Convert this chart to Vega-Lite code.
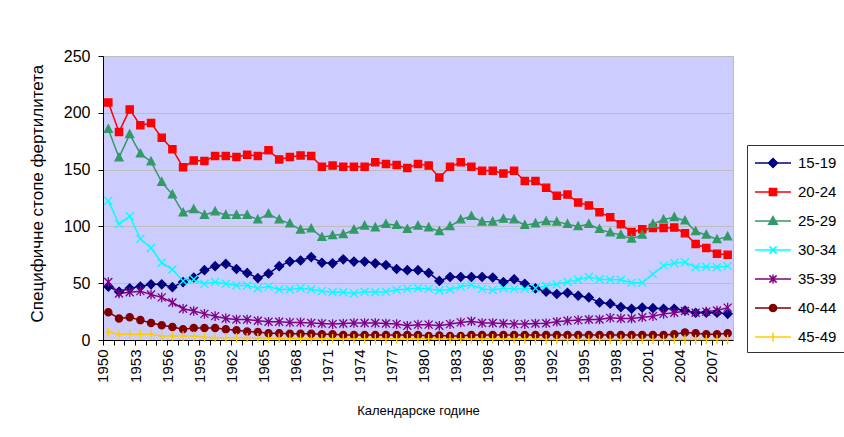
{
  "$schema": "https://vega.github.io/schema/vega-lite/v6.json",
  "width": 630,
  "height": 284,
  "autosize": {"type": "none"},
  "padding": {"left": 103, "top": 56, "right": 111, "bottom": 97},
  "background": "white",
  "config": {
    "font": "Liberation Sans",
    "view": {"fill": "#CCCCFF", "stroke": "#BDBDBD"}
  },
  "data": {
    "values": [
      {"year": 1950, "15-19": 47, "20-24": 209, "25-29": 185.5, "30-34": 122.5, "35-39": 51, "40-44": 24.5, "45-49": 7},
      {"year": 1951, "15-19": 42.5, "20-24": 183, "25-29": 160.5, "30-34": 102, "35-39": 41, "40-44": 19, "45-49": 5},
      {"year": 1952, "15-19": 45.5, "20-24": 203, "25-29": 181, "30-34": 109, "35-39": 42, "40-44": 20, "45-49": 5},
      {"year": 1953, "15-19": 47, "20-24": 189, "25-29": 164, "30-34": 89, "35-39": 43, "40-44": 17.5, "45-49": 5},
      {"year": 1954, "15-19": 49, "20-24": 191, "25-29": 157, "30-34": 81, "35-39": 40, "40-44": 15, "45-49": 5},
      {"year": 1955, "15-19": 49, "20-24": 178, "25-29": 139, "30-34": 68, "35-39": 37.5, "40-44": 13, "45-49": 3.5},
      {"year": 1956, "15-19": 46.5, "20-24": 168, "25-29": 128, "30-34": 62, "35-39": 33, "40-44": 11.5, "45-49": 3.5},
      {"year": 1957, "15-19": 51, "20-24": 152, "25-29": 112, "30-34": 52, "35-39": 27.5, "40-44": 9.5, "45-49": 3.5},
      {"year": 1958, "15-19": 55, "20-24": 158, "25-29": 115, "30-34": 53.5, "35-39": 25.5, "40-44": 10.5, "45-49": 3.5},
      {"year": 1959, "15-19": 61.5, "20-24": 157.5, "25-29": 110, "30-34": 49.5, "35-39": 23, "40-44": 10.5, "45-49": 2.5},
      {"year": 1960, "15-19": 65, "20-24": 162, "25-29": 113, "30-34": 51, "35-39": 21, "40-44": 10.5, "45-49": 2},
      {"year": 1961, "15-19": 67, "20-24": 162, "25-29": 110, "30-34": 49.5, "35-39": 19, "40-44": 9.5, "45-49": 2},
      {"year": 1962, "15-19": 62.5, "20-24": 161, "25-29": 110, "30-34": 48, "35-39": 18, "40-44": 8.5, "45-49": 2},
      {"year": 1963, "15-19": 59, "20-24": 163, "25-29": 110, "30-34": 48, "35-39": 18, "40-44": 7.5, "45-49": 2},
      {"year": 1964, "15-19": 54.5, "20-24": 162, "25-29": 106, "30-34": 45.5, "35-39": 17, "40-44": 7, "45-49": 2},
      {"year": 1965, "15-19": 58.5, "20-24": 167, "25-29": 111, "30-34": 47, "35-39": 16, "40-44": 6, "45-49": 1.5},
      {"year": 1966, "15-19": 65, "20-24": 159, "25-29": 106, "30-34": 44.5, "35-39": 16, "40-44": 6, "45-49": 1.5},
      {"year": 1967, "15-19": 69, "20-24": 161, "25-29": 102.5, "30-34": 44.5, "35-39": 15.5, "40-44": 5.5, "45-49": 1.5},
      {"year": 1968, "15-19": 70, "20-24": 162.5, "25-29": 97, "30-34": 45.5, "35-39": 15.5, "40-44": 5.5, "45-49": 1.5},
      {"year": 1969, "15-19": 73, "20-24": 162, "25-29": 98, "30-34": 44.5, "35-39": 15, "40-44": 5.5, "45-49": 1},
      {"year": 1970, "15-19": 68, "20-24": 152.5, "25-29": 90.5, "30-34": 43, "35-39": 14.5, "40-44": 5, "45-49": 1},
      {"year": 1971, "15-19": 67.5, "20-24": 153.5, "25-29": 92, "30-34": 42, "35-39": 14, "40-44": 5, "45-49": 1},
      {"year": 1972, "15-19": 71, "20-24": 152.5, "25-29": 93, "30-34": 42, "35-39": 14.5, "40-44": 4.5, "45-49": 1},
      {"year": 1973, "15-19": 69, "20-24": 152.5, "25-29": 97, "30-34": 41, "35-39": 15, "40-44": 4.5, "45-49": 1},
      {"year": 1974, "15-19": 69, "20-24": 152.5, "25-29": 100.5, "30-34": 42.5, "35-39": 15, "40-44": 4.5, "45-49": 1},
      {"year": 1975, "15-19": 67.5, "20-24": 156.5, "25-29": 99, "30-34": 42, "35-39": 15, "40-44": 4.5, "45-49": 1},
      {"year": 1976, "15-19": 66, "20-24": 155, "25-29": 102, "30-34": 42.5, "35-39": 14.5, "40-44": 4.5, "45-49": 1},
      {"year": 1977, "15-19": 62.5, "20-24": 154, "25-29": 101, "30-34": 44, "35-39": 14, "40-44": 4.5, "45-49": 1},
      {"year": 1978, "15-19": 61.5, "20-24": 151.5, "25-29": 97.5, "30-34": 45, "35-39": 12.5, "40-44": 4.5, "45-49": 1},
      {"year": 1979, "15-19": 61.5, "20-24": 155, "25-29": 100.5, "30-34": 45.5, "35-39": 13.5, "40-44": 4.5, "45-49": 1},
      {"year": 1980, "15-19": 59, "20-24": 153.5, "25-29": 99, "30-34": 45, "35-39": 13.5, "40-44": 3.5, "45-49": 1},
      {"year": 1981, "15-19": 52, "20-24": 143, "25-29": 95.5, "30-34": 43.5, "35-39": 12.5, "40-44": 4, "45-49": 1},
      {"year": 1982, "15-19": 55.5, "20-24": 152.5, "25-29": 100, "30-34": 44.5, "35-39": 14, "40-44": 3.5, "45-49": 1},
      {"year": 1983, "15-19": 55.5, "20-24": 156.5, "25-29": 106, "30-34": 47, "35-39": 15.5, "40-44": 3.5, "45-49": 1},
      {"year": 1984, "15-19": 55.5, "20-24": 152.5, "25-29": 109, "30-34": 48.5, "35-39": 16.5, "40-44": 4.5, "45-49": 1},
      {"year": 1985, "15-19": 55.5, "20-24": 149, "25-29": 104, "30-34": 45, "35-39": 15, "40-44": 4.5, "45-49": 1},
      {"year": 1986, "15-19": 55, "20-24": 149, "25-29": 104, "30-34": 44, "35-39": 15, "40-44": 4.5, "45-49": 1},
      {"year": 1987, "15-19": 51, "20-24": 146.5, "25-29": 106.5, "30-34": 45.5, "35-39": 14.5, "40-44": 4.5, "45-49": 1},
      {"year": 1988, "15-19": 53.5, "20-24": 149, "25-29": 106, "30-34": 45, "35-39": 14, "40-44": 4.5, "45-49": 1},
      {"year": 1989, "15-19": 49.5, "20-24": 140, "25-29": 101, "30-34": 45, "35-39": 14, "40-44": 4.5, "45-49": 1},
      {"year": 1990, "15-19": 45.5, "20-24": 140, "25-29": 102.5, "30-34": 45.5, "35-39": 14.5, "40-44": 4.5, "45-49": 1},
      {"year": 1991, "15-19": 42.5, "20-24": 134, "25-29": 104.5, "30-34": 47.5, "35-39": 14.7, "40-44": 4.5, "45-49": 0.5},
      {"year": 1992, "15-19": 40.5, "20-24": 127, "25-29": 104, "30-34": 49, "35-39": 16, "40-44": 4.5, "45-49": 0.5},
      {"year": 1993, "15-19": 41.5, "20-24": 128, "25-29": 102, "30-34": 51, "35-39": 17, "40-44": 4.5, "45-49": 0.5},
      {"year": 1994, "15-19": 39, "20-24": 121, "25-29": 100, "30-34": 53, "35-39": 17.5, "40-44": 4.5, "45-49": 0.5},
      {"year": 1995, "15-19": 37.5, "20-24": 118.5, "25-29": 102, "30-34": 55.5, "35-39": 18, "40-44": 4.5, "45-49": 0.5},
      {"year": 1996, "15-19": 33, "20-24": 112.5, "25-29": 97.5, "30-34": 53.5, "35-39": 18, "40-44": 4.5, "45-49": 0.5},
      {"year": 1997, "15-19": 32, "20-24": 108, "25-29": 94.5, "30-34": 53, "35-39": 19.5, "40-44": 4.5, "45-49": 0.5},
      {"year": 1998, "15-19": 29, "20-24": 102, "25-29": 92.5, "30-34": 53, "35-39": 19, "40-44": 4.5, "45-49": 0.5},
      {"year": 1999, "15-19": 27.5, "20-24": 95, "25-29": 89, "30-34": 50.5, "35-39": 19, "40-44": 4.5, "45-49": 0.5},
      {"year": 2000, "15-19": 28.5, "20-24": 97.5, "25-29": 92.5, "30-34": 50.5, "35-39": 20, "40-44": 4.5, "45-49": 0.5},
      {"year": 2001, "15-19": 28, "20-24": 98.5, "25-29": 102, "30-34": 58, "35-39": 21, "40-44": 4.5, "45-49": 0.5},
      {"year": 2002, "15-19": 27.5, "20-24": 98.5, "25-29": 106, "30-34": 65.5, "35-39": 23, "40-44": 4.5, "45-49": 0.5},
      {"year": 2003, "15-19": 27.5, "20-24": 99, "25-29": 108, "30-34": 67.5, "35-39": 24, "40-44": 5, "45-49": 0.5},
      {"year": 2004, "15-19": 26, "20-24": 94, "25-29": 105, "30-34": 68.5, "35-39": 25.5, "40-44": 6.5, "45-49": 0.5},
      {"year": 2005, "15-19": 24, "20-24": 84.5, "25-29": 95.5, "30-34": 64, "35-39": 24, "40-44": 6, "45-49": 0.5},
      {"year": 2006, "15-19": 24, "20-24": 81, "25-29": 92.5, "30-34": 64.5, "35-39": 25, "40-44": 5, "45-49": 0.5},
      {"year": 2007, "15-19": 24, "20-24": 76, "25-29": 88.5, "30-34": 64, "35-39": 26, "40-44": 5, "45-49": 0.5},
      {"year": 2008, "15-19": 23, "20-24": 75, "25-29": 91, "30-34": 65, "35-39": 28.5, "40-44": 6, "45-49": 0.5}
    ]
  },
  "transform": [
    {"fold": ["15-19", "20-24", "25-29", "30-34", "35-39", "40-44", "45-49"], "as": ["group", "value"]}
  ],
  "encoding": {
    "x": {
      "field": "year",
      "type": "quantitative",
      "scale": {"domain": [1949.5, 2008.5], "nice": false, "zero": false},
      "axis": {
        "values": [1950,1951,1952,1953,1954,1955,1956,1957,1958,1959,1960,1961,1962,1963,1964,1965,1966,1967,1968,1969,1970,1971,1972,1973,1974,1975,1976,1977,1978,1979,1980,1981,1982,1983,1984,1985,1986,1987,1988,1989,1990,1991,1992,1993,1994,1995,1996,1997,1998,1999,2000,2001,2002,2003,2004,2005,2006,2007,2008],
        "labelExpr": "datum.value % 3 == 0 ? '' + datum.value : ''",
        "labelAngle": 270,
        "labelAlign": "right",
        "labelBaseline": "middle",
        "labelFontSize": 15,
        "labelColor": "black",
        "labelPadding": 4,
        "labelOverlap": false,
        "labelFlush": false,
        "tickSize": 5,
        "tickOffset": -5.34,
        "tickColor": "black",
        "domainColor": "black",
        "grid": false,
        "title": "Календарске године",
        "titleFontSize": 13,
        "titleFontWeight": "normal",
        "titleColor": "black",
        "titlePadding": 22
      }
    },
    "y": {
      "field": "value",
      "type": "quantitative",
      "scale": {"domain": [0, 250], "nice": false},
      "axis": {
        "values": [0, 50, 100, 150, 200, 250],
        "labelFontSize": 16,
        "labelColor": "black",
        "labelPadding": 8,
        "tickSize": 5,
        "tickColor": "black",
        "domainColor": "black",
        "grid": true,
        "gridColor": "#BDBDBD",
        "title": "Специфичне стопе фертилитета",
        "titleFontSize": 17,
        "titleFontWeight": "normal",
        "titleColor": "black",
        "titleAlign": "left",
        "titleY": 266,
        "titlePadding": 17
      }
    }
  },
  "layer": [
    {
      "mark": {"type": "line", "strokeWidth": 1.5},
      "encoding": {
        "color": {
          "field": "group",
          "type": "nominal",
          "scale": {
            "domain": ["15-19", "20-24", "25-29", "30-34", "35-39", "40-44", "45-49"],
            "range": ["#000080", "#FF0000", "#339966", "#00FFFF", "#800080", "#800000", "#FFCC00"]
          },
          "legend": null
        }
      }
    },
    {
      "mark": {"type": "point", "filled": true, "size": 64, "strokeWidth": 1.3, "opacity": 1},
      "encoding": {
        "fill": {
          "field": "group", "type": "nominal",
          "scale": {
            "domain": ["15-19", "20-24", "25-29", "30-34", "35-39", "40-44", "45-49"],
            "range": ["#000080", "#FF0000", "#339966", "#00FFFF", "#800080", "#800000", "#FFCC00"]
          },
          "legend": null
        },
        "stroke": {
          "field": "group", "type": "nominal",
          "scale": {
            "domain": ["15-19", "20-24", "25-29", "30-34", "35-39", "40-44", "45-49"],
            "range": ["#000080", "#FF0000", "#339966", "#00FFFF", "#800080", "#800000", "#FFCC00"]
          },
          "legend": null
        },
        "shape": {
          "field": "group", "type": "nominal",
          "scale": {
            "domain": ["15-19", "20-24", "25-29", "30-34", "35-39", "40-44", "45-49"],
            "range": [
              "M0,-1.1L1.1,0L0,1.1L-1.1,0Z",
              "M-0.9,-0.9H0.9V0.9H-0.9Z",
              "M0,-1.1L1,0.8H-1Z",
              "M-1,-1L1,1M-1,1L1,-1",
              "M-1,-1L1,1M-1,1L1,-1M0,-1.2V1.2",
              "M-0.9,0A0.9,0.9 0 1,1 0.9,0A0.9,0.9 0 1,1 -0.9,0Z",
              "M-0.8,0H0.8M0,-1.2V1.2"
            ]
          },
          "legend": null
        }
      }
    },
    {
      "mark": {"type": "point", "filled": false, "opacity": 0},
      "encoding": {
        "stroke": {
          "field": "group", "type": "nominal",
          "scale": {
            "domain": ["15-19", "20-24", "25-29", "30-34", "35-39", "40-44", "45-49"],
            "range": ["#000080", "#FF0000", "#339966", "#00FFFF", "#800080", "#800000", "#FFCC00"]
          },
          "legend": {
            "title": null, "orient": "none", "legendX": 644, "legendY": 89,
            "padding": 7, "strokeColor": "#333333", "fillColor": "white",
            "labelFontSize": 15, "labelColor": "black", "labelOffset": 14,
            "symbolSize": 400, "symbolOffset": 8, "symbolStrokeWidth": 1.5, "rowPadding": 10
          }
        },
        "shape": {
          "field": "group", "type": "nominal",
          "scale": {
            "domain": ["15-19", "20-24", "25-29", "30-34", "35-39", "40-44", "45-49"],
            "range": [
              "M-1.8,0H1.8M0,-0.45L0.45,0L0,0.45L-0.45,0ZM0,-0.3L0.3,0L0,0.3L-0.3,0ZM0,-0.15L0.15,0L0,0.15L-0.15,0Z",
              "M-1.8,0H1.8M-0.36,-0.36H0.36V0.36H-0.36ZM-0.22,-0.22H0.22V0.22H-0.22ZM-0.08,-0.08H0.08V0.08H-0.08Z",
              "M-1.8,0H1.8M0,-0.45L0.43,0.32H-0.43ZM0,-0.27L0.28,0.23H-0.28ZM0,-0.1L0.14,0.15H-0.14Z",
              "M-1.8,0H1.8M-0.36,-0.36L0.36,0.36M-0.36,0.36L0.36,-0.36",
              "M-1.8,0H1.8M-0.36,-0.36L0.36,0.36M-0.36,0.36L0.36,-0.36M0,-0.45V0.45",
              "M-1.8,0H1.8M-0.36,0A0.36,0.36 0 1,1 0.36,0A0.36,0.36 0 1,1 -0.36,0ZM-0.22,0A0.22,0.22 0 1,1 0.22,0A0.22,0.22 0 1,1 -0.22,0ZM-0.08,0A0.08,0.08 0 1,1 0.08,0A0.08,0.08 0 1,1 -0.08,0Z",
              "M-1.8,0H1.8M0,-0.45V0.45"
            ]
          },
          "legend": {
            "title": null, "orient": "none", "legendX": 644, "legendY": 89,
            "padding": 7, "strokeColor": "#333333", "fillColor": "white",
            "labelFontSize": 15, "labelColor": "black", "labelOffset": 14,
            "symbolSize": 400, "symbolOffset": 8, "symbolStrokeWidth": 1.5, "rowPadding": 10
          }
        }
      }
    }
  ],
  "resolve": {
    "scale": {"shape": "independent", "fill": "independent", "stroke": "independent"}
  }
}
